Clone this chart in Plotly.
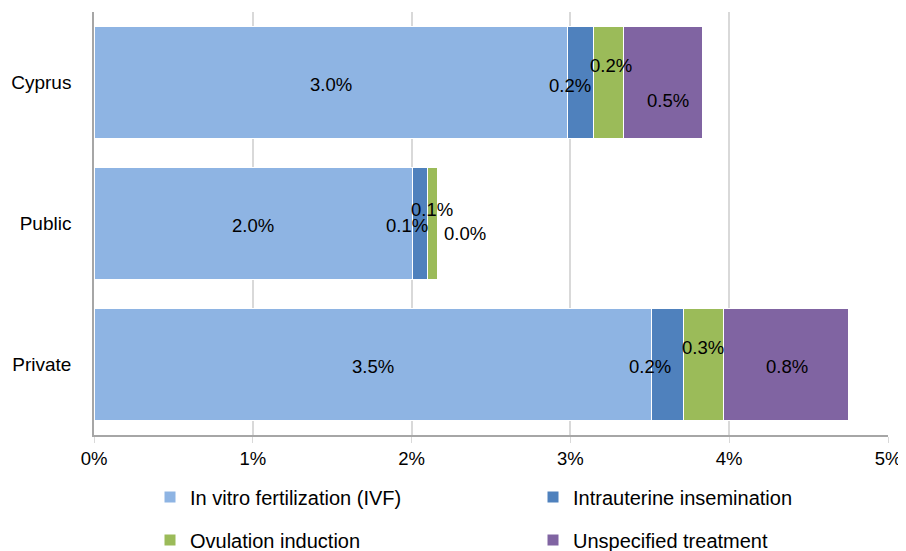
import plotly.graph_objects as go

categories = ["Cyprus", "Public", "Private"]
series_names = ["In vitro fertilization (IVF)", "Intrauterine insemination",
                "Ovulation induction", "Unspecified treatment"]
ivf = [2.98, 2.005, 3.51]
iui = [0.164, 0.092, 0.204]
ovi = [0.19, 0.063, 0.252]
uns = [0.50, 0.005, 0.787]
colors = ["#8EB4E3", "#4F81BD", "#9BBB59", "#8064A2"]

series = [ivf, iui, ovi, uns]
FONT = "Liberation Sans"

# label offsets (pixels): (xshift, yshift) per series per category
label_style = {
    0: [(0, -1.5), (0, -1.5), (0, -1.5)],
    1: [(3, -2.5), (-5, -1.5), (-1, -1.5)],
    2: [(3, 17.5), (0, 14.5), (-1, 17.5)],
    3: [(5, -17.5), (4, -9.5), (1, -1.5)],
}

fig = go.Figure()
for i, (name, vals) in enumerate(zip(series_names, series)):
    fig.add_trace(go.Bar(
        y=categories, x=vals, name=name, orientation="h",
        marker=dict(color=colors[i], line=dict(color="white", width=1)),
        legend="legend" if i < 2 else "legend2",
        hoverinfo="skip",
    ))

annotations = []
for ci, cat in enumerate(categories):
    cum = 0.0
    for si, vals in enumerate(series):
        v = vals[ci]
        xs, ys = label_style[si][ci]
        anchor = "center"
        if si == 1:
            xpos = cum
        elif si == 3 and ci == 1:
            xpos = cum + v
            anchor = "left"
        else:
            xpos = cum + v / 2
        annotations.append(dict(
            x=xpos, y=cat, xref="x", yref="y", text=f"{v:.1f}%",
            showarrow=False, xshift=xs, yshift=ys, xanchor=anchor,
            font=dict(family=FONT, size=18.5, color="black"),
        ))
        cum += v

W, H = 898, 543  # page body has an 8px margin
legend_common = dict(orientation="h", xref="container", yref="container",
                     xanchor="left", yanchor="middle",
                     entrywidth=338, entrywidthmode="pixels",
                     traceorder="normal", font=dict(family=FONT, size=20))

fig.update_layout(
    barmode="stack",
    bargap=0.2,
    width=W, height=H,
    margin=dict(l=86, r=18, t=4, b=116),
    plot_bgcolor="white", paper_bgcolor="white",
    font=dict(family=FONT, size=18.5, color="black"),
    annotations=annotations,
    xaxis=dict(range=[0, 5], dtick=1, ticksuffix="%", showgrid=True,
               gridcolor="#D9D9D9", gridwidth=1.5, zeroline=False,
               showline=True, linecolor="#A6A6A6", linewidth=1.5,
               ticks="outside", ticklen=6, tickcolor="#D9D9D9",
               automargin=False,
               tickfont=dict(family=FONT, size=18.5)),
    yaxis=dict(autorange="reversed", showline=True, linecolor="#A6A6A6",
               linewidth=1.5, ticks="", ticklabelstandoff=17,
               showgrid=False, automargin=False,
               tickfont=dict(family=FONT, size=19)),
    legend=dict(x=142 / W, y=1 - 489 / H, **legend_common),
    legend2=dict(x=142 / W, y=1 - 532 / H, **legend_common),
    showlegend=True,
)

fig.write_html("out.html")
